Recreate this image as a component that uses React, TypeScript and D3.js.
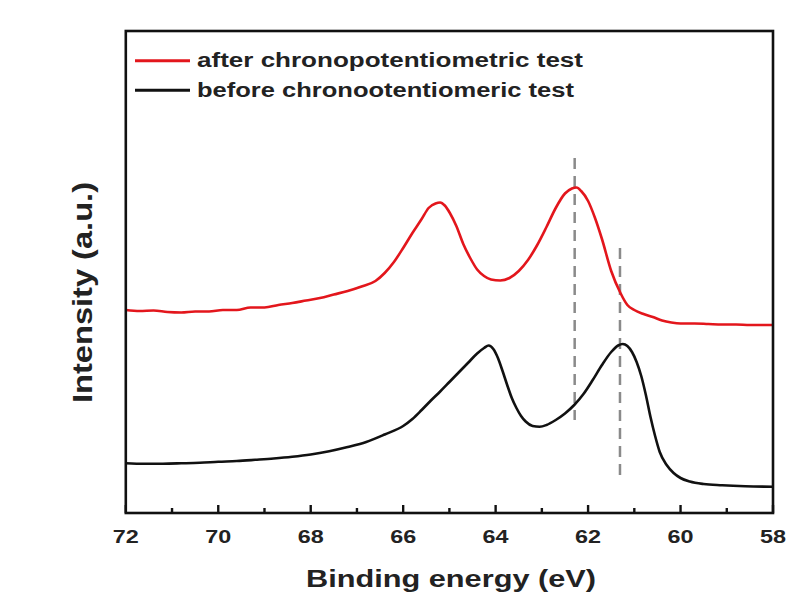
import React from "react";
import * as d3 from "d3";

// ---- Data ----
const afterEnergy = [72.0, 71.7, 71.4, 71.1, 70.8, 70.5, 70.2, 69.9, 69.6, 69.3, 69.0, 68.7, 68.4, 68.1, 67.8, 67.5, 67.2, 66.9, 66.6, 66.4, 66.2, 66.0, 65.8, 65.6, 65.45, 65.3, 65.2, 65.1, 64.99, 64.85, 64.7, 64.55, 64.4, 64.25, 64.1, 63.9, 63.7, 63.5, 63.3, 63.1, 62.9, 62.7, 62.5, 62.35, 62.25, 62.15, 62.0, 61.85, 61.7, 61.5, 61.3, 61.15, 61.0, 60.8, 60.6, 60.4, 60.2, 60.0, 59.7, 59.4, 59.1, 58.8, 58.5, 58.2, 58.0];
const afterIntensity = [2030, 2020, 2025, 2010, 2005, 2015, 2015, 2030, 2030, 2055, 2055, 2080, 2100, 2125, 2150, 2185, 2220, 2265, 2320, 2400, 2510, 2650, 2800, 2940, 3050, 3095, 3105, 3075, 3000, 2870, 2690, 2550, 2435, 2370, 2335, 2325, 2350, 2420, 2530, 2680, 2860, 3050, 3195, 3245, 3255, 3220, 3120, 2950, 2740, 2420, 2200, 2080, 2030, 1990, 1960, 1925, 1905, 1895, 1895, 1890, 1885, 1885, 1880, 1880, 1880];

const beforeEnergy = [72.0, 71.6, 71.2, 70.8, 70.4, 70.0, 69.6, 69.2, 68.8, 68.4, 68.0, 67.6, 67.2, 66.8, 66.4, 66.0, 65.8, 65.6, 65.4, 65.2, 65.0, 64.8, 64.6, 64.4, 64.25, 64.15, 64.05, 63.95, 63.85, 63.75, 63.65, 63.55, 63.45, 63.35, 63.2, 63.05, 62.9, 62.7, 62.5, 62.3, 62.1, 61.9, 61.7, 61.5, 61.35, 61.25, 61.15, 61.05, 60.95, 60.85, 60.75, 60.65, 60.55, 60.45, 60.3, 60.15, 60.0, 59.8, 59.5, 59.1, 58.6, 58.0];
const beforeIntensity = [497, 492, 493, 497, 502, 512, 520, 532, 545, 562, 585, 618, 660, 710, 785, 870, 940, 1030, 1125, 1215, 1310, 1405, 1500, 1595, 1650, 1675, 1640, 1550, 1420, 1280, 1150, 1050, 970, 915, 870, 862, 880, 930, 995, 1080, 1190, 1330, 1480, 1610, 1675, 1690, 1670, 1610, 1510, 1370, 1180, 960, 770, 610, 480, 400, 350, 315, 290, 278, 268, 262];

const refEnergies = [62.29, 61.31];
const refTop = [3550, 2650];
const refBottom = [930, 330];

const majorTicks = [72, 70, 68, 66, 64, 62, 60, 58];
const minorTicks = [71, 69, 67, 65, 63, 61, 59];

const seriesNames = ["after chronopotentiometric test", "before chronootentiomeric test"];
const seriesColors = ["#e3161c", "#111111"];

const xTitle = "Binding energy (eV)";
const yTitle = "Intensity (a.u.)";

// ---- Layout ----
const W = 800, H = 597;
const L = 125.8, R = 773, T = 31, B = 513;
const FONT = "'Liberation Sans', Arial, Helvetica, sans-serif";

export default function App() {
  const x = d3.scaleLinear().domain([72, 58]).range([L, R]);
  const y = d3.scaleLinear().domain([0, 4820]).range([B, T]);
  const line = d3.line<[number, number]>().x(d => x(d[0])).y(d => y(d[1])).curve(d3.curveMonotoneX);
  const after: [number, number][] = afterEnergy.map((e, i) => [e, afterIntensity[i]]);
  const before: [number, number][] = beforeEnergy.map((e, i) => [e, beforeIntensity[i]]);

  return (
    <svg width={W} height={H} style={{ position: "absolute", left: 0, top: 0, background: "#fff" }} fontFamily={FONT}>
      <rect x={0} y={0} width={W} height={H} fill="#fff" />
      {/* reference dashed lines */}
      {refEnergies.map((e, i) => (
        <line key={i} x1={x(e)} x2={x(e)} y1={y(refTop[i])} y2={y(refBottom[i])} stroke="#8a8a8a" strokeWidth={2.5} strokeDasharray="11,7" />
      ))}
      <path d={line(after) || ""} fill="none" stroke={seriesColors[0]} strokeWidth={2.6} strokeLinejoin="round" />
      <path d={line(before) || ""} fill="none" stroke={seriesColors[1]} strokeWidth={2.6} strokeLinejoin="round" />
      {/* ticks */}
      {majorTicks.map(t => (
        <line key={"M" + t} x1={x(t)} x2={x(t)} y1={B} y2={B - 8} stroke="#111" strokeWidth={2.4} />
      ))}
      {minorTicks.map(t => (
        <line key={"m" + t} x1={x(t)} x2={x(t)} y1={B} y2={B - 5} stroke="#111" strokeWidth={2.4} />
      ))}
      {majorTicks.map(t => (
        <text key={"l" + t} x={x(t)} y={543} textAnchor="middle" fontSize={19} fontWeight="bold" fill="#222" textLength={26} lengthAdjust="spacingAndGlyphs">{t}</text>
      ))}
      {/* frame */}
      <rect x={L} y={T} width={R - L} height={B - T} fill="none" stroke="#111" strokeWidth={2.6} />
      {/* legend */}
      {seriesNames.map((n, i) => (
        <g key={n}>
          <line x1={135} x2={190} y1={60.7 + i * 29.5} y2={60.7 + i * 29.5} stroke={seriesColors[i]} strokeWidth={3} />
          <text x={197} y={67 + i * 29.5} fontSize={20} fontWeight="bold" fill="#222" textLength={i === 0 ? 386 : 377} lengthAdjust="spacingAndGlyphs">{n}</text>
        </g>
      ))}
      {/* axis titles */}
      <text x={451} y={587} textAnchor="middle" fontSize={24} fontWeight="bold" fill="#222" textLength={290} lengthAdjust="spacingAndGlyphs">{xTitle}</text>
      <text transform={`translate(92,292.5) rotate(-90)`} textAnchor="middle" fontSize={28} fontWeight="bold" fill="#222" textLength={221} lengthAdjust="spacingAndGlyphs">{yTitle}</text>
    </svg>
  );
}
